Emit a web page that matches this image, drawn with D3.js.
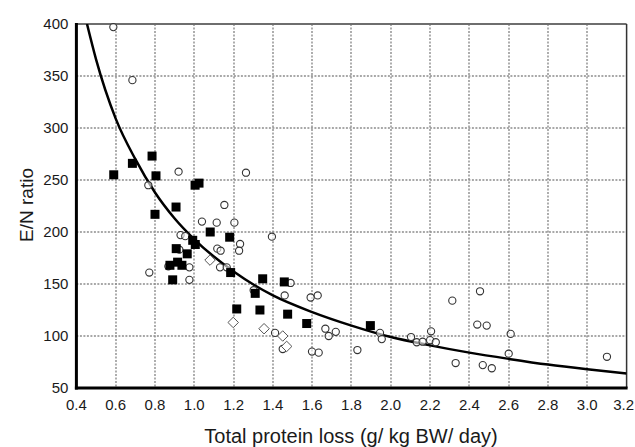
<!DOCTYPE html>
<html>
<head>
<meta charset="utf-8">
<script src="https://cdn.jsdelivr.net/npm/d3@7"></script>
<style>
  body { margin: 0; background: #fff; }
  svg text { font-family: "Liberation Sans", Arial, sans-serif; fill: #1a1a1a; }
</style>
</head>
<body>
<div id="chart"></div>
<script>
// Tick labels
const xTicks = [0.4, 0.6, 0.8, 1.0, 1.2, 1.4, 1.6, 1.8, 2.0, 2.2, 2.4, 2.6, 2.8, 3.0, 3.2];
const yTicks = [50, 100, 150, 200, 250, 300, 350, 400];

// Filled squares
const squareX = [0.59, 0.685, 0.785, 0.805, 0.80, 0.907, 1.004, 1.024, 1.081, 1.18, 0.992, 1.005, 0.908, 0.964,
                 0.876, 0.915, 0.937, 0.89, 1.185, 1.31, 1.348, 1.458, 1.216, 1.334, 1.475, 1.572, 1.896];
const squareY = [255, 266, 273, 254, 217, 224, 245, 247, 200, 195, 192, 188, 184, 179,
                 168, 171, 168, 154, 161, 141, 155, 152, 126, 125, 121, 112, 110];

// Open diamonds
const diamondX = [1.08, 1.198, 1.355, 1.45, 1.47];
const diamondY = [173, 113, 107, 100, 90];

// Open circles
const circleX = [0.588, 0.685, 0.766, 0.92, 1.263, 1.153, 1.039, 1.114, 1.204, 0.93, 0.954, 1.395, 1.117, 1.134,
                 1.233, 1.228, 0.924, 0.868, 0.975, 1.131, 1.165, 0.771, 0.975, 1.302, 1.49, 1.46, 1.592, 1.628,
                 1.411, 1.45, 1.599, 1.633, 1.667, 1.684, 1.72, 1.83, 1.945, 1.954, 2.103, 2.132, 2.162, 2.205,
                 2.2, 2.229, 2.313, 2.454, 2.44, 2.488, 2.33, 2.468, 2.514, 2.61, 2.6, 3.1];
const circleY = [397, 346, 245, 258, 257, 226, 210, 209, 209, 197, 196, 195.5, 184, 182,
                 188.5, 182, 183, 167, 166, 166, 166, 161, 154, 144, 151, 139, 137, 139,
                 103, 87.5, 85, 84, 107, 100, 104, 86.5, 103, 97, 99, 94, 94.5, 104.5,
                 96, 94, 134, 143, 111, 110, 74, 72, 69, 102, 83, 80];

// Fitted curve
const curveX = [0.454, 0.5, 0.6, 0.7, 0.8, 0.9, 1.0, 1.2, 1.4, 1.6, 1.8, 2.0, 2.2, 2.4, 2.6, 2.8, 3.0, 3.2];
const curveY = [400, 366, 309, 270, 238, 213, 193, 162, 139, 123, 110, 99, 91, 84, 78, 72.5, 68, 64];

const width = 635, height = 447;

const svg = d3.select("#chart")
    .append("svg")
    .attr("width", width)
    .attr("height", height);

const x = d3.scaleLinear().domain([0.4, 3.2]).range([76.4, 626.6]);
const y = d3.scaleLinear().domain([50, 400]).range([388, 24]);

// Grid: dotted lines
const grid = svg.append("g")
    .attr("fill", "none")
    .attr("stroke", "#8c8c8c")
    .attr("stroke-width", 1.4)
    .attr("stroke-dasharray", "2,1.5");

grid.selectAll(".gx")
    .data(xTicks.slice(1, -1))
    .join("path")
    .attr("class", "gx")
    .attr("d", d => `M${Math.round(x(d))},${y(400)}V${y(50)}`);

grid.selectAll(".gy")
    .data(yTicks.slice(1, -1))
    .join("path")
    .attr("class", "gy")
    .attr("d", d => `M${x(0.4)},${Math.round(y(d))}H${x(3.2)}`);

// Frame: grey top and right, heavy black left and bottom
svg.append("line")
    .attr("x1", x(0.4)).attr("x2", x(3.2))
    .attr("y1", y(400)).attr("y2", y(400))
    .attr("stroke", "#6e6e6e").attr("stroke-width", 2);
svg.append("line")
    .attr("x1", x(3.2)).attr("x2", x(3.2))
    .attr("y1", y(400)).attr("y2", y(50))
    .attr("stroke", "#333").attr("stroke-width", 1.5);

// Curve
svg.append("clipPath").attr("id", "plot-clip")
    .append("rect")
    .attr("x", x(0.4)).attr("y", y(400))
    .attr("width", x(3.2) - x(0.4)).attr("height", y(50) - y(400));

const line = d3.line()
    .x(d => x(d[0]))
    .y(d => y(d[1]))
    .curve(d3.curveMonotoneX);

svg.append("path")
    .datum(curveX.map((d, i) => [d, curveY[i]]))
    .attr("clip-path", "url(#plot-clip)")
    .attr("d", line)
    .attr("fill", "none")
    .attr("stroke", "#000")
    .attr("stroke-width", 2.5);

// Open circles
svg.append("g")
    .selectAll("circle")
    .data(circleX.map((d, i) => [d, circleY[i]]))
    .join("circle")
    .attr("cx", d => x(d[0]))
    .attr("cy", d => y(d[1]))
    .attr("r", 3.6)
    .attr("fill", "#fff")
    .attr("fill-opacity", 0.6)
    .attr("stroke", "#333")
    .attr("stroke-width", 1.1);

// Open diamonds
const diamond = d3.symbol().type(d3.symbolDiamond2).size(70);
svg.append("g")
    .selectAll("path")
    .data(diamondX.map((d, i) => [d, diamondY[i]]))
    .join("path")
    .attr("transform", d => `translate(${x(d[0])},${y(d[1])})`)
    .attr("d", diamond)
    .attr("fill", "#fff")
    .attr("stroke", "#555")
    .attr("stroke-width", 1);

// Filled squares
svg.append("g")
    .selectAll("rect")
    .data(squareX.map((d, i) => [d, squareY[i]]))
    .join("rect")
    .attr("x", d => x(d[0]) - 4.5)
    .attr("y", d => y(d[1]) - 4.5)
    .attr("width", 9)
    .attr("height", 9)
    .attr("fill", "#000");

// Left and bottom axis lines
svg.append("line")
    .attr("x1", x(0.4)).attr("x2", x(0.4))
    .attr("y1", y(400) - 1).attr("y2", y(50) + 1.5)
    .attr("stroke", "#000").attr("stroke-width", 3);
svg.append("line")
    .attr("x1", x(0.4) - 1.5).attr("x2", x(3.2) + 1)
    .attr("y1", y(50)).attr("y2", y(50))
    .attr("stroke", "#000").attr("stroke-width", 3);

// Tick labels (last one hugs the right edge, as in the original)
svg.append("g")
    .selectAll("text")
    .data(xTicks)
    .join("text")
    .attr("x", (d, i) => i === xTicks.length - 1 ? width - 1 : x(d))
    .attr("y", y(50) + 22)
    .attr("text-anchor", (d, i) => i === xTicks.length - 1 ? "end" : "middle")
    .attr("font-size", "15px")
    .text(d => d.toFixed(1));

svg.append("g")
    .selectAll("text")
    .data(yTicks)
    .join("text")
    .attr("x", x(0.4) - 8)
    .attr("y", d => y(d) + 5)
    .attr("text-anchor", "end")
    .attr("font-size", "15px")
    .text(d => d);

// Axis titles
svg.append("text")
    .attr("x", 351)
    .attr("y", 443)
    .attr("text-anchor", "middle")
    .attr("font-size", "20px")
    .text("Total protein loss (g/ kg BW/ day)");

svg.append("text")
    .attr("transform", "translate(33,205) rotate(-90)")
    .attr("text-anchor", "middle")
    .attr("font-size", "19px")
    .text("E/N ratio");
</script>
</body>
</html>
